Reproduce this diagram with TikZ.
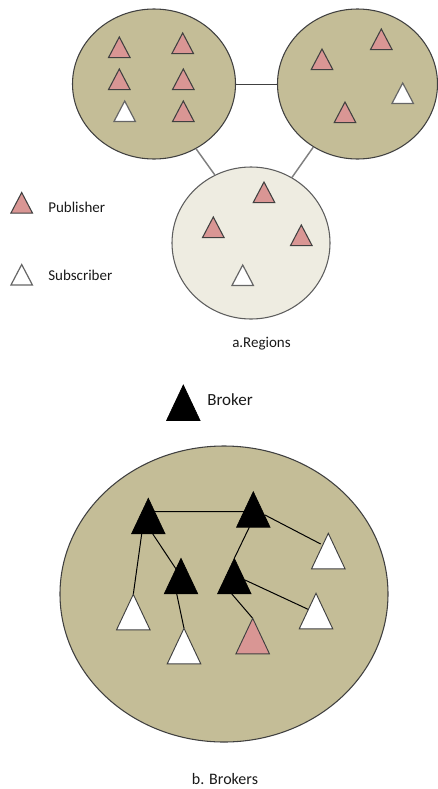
\documentclass[tikz,border=0pt]{standalone}
\usepackage{fontspec}
\setmainfont{Carlito}
\usetikzlibrary{shapes.geometric,calc}
\definecolor{regtan}{HTML}{C4BD97}
\definecolor{reglight}{HTML}{EEECE1}
\definecolor{pubpink}{HTML}{D99694}
\definecolor{edgedark}{HTML}{404040}
\begin{document}
\begin{tikzpicture}[x=0.75pt,y=-0.75pt,
  region/.style={ellipse,draw=edgedark,fill=regtan,line width=0.8pt,inner sep=0pt},
  lregion/.style={ellipse,draw=edgedark!85,fill=reglight,line width=0.8pt,inner sep=0pt},
  rline/.style={draw=black!75,line width=0.65pt},
  gline/.style={draw=black!50,line width=1.1pt},
  bline/.style={draw=black,line width=0.75pt},
  smalltri/.style={inner sep=0pt,minimum width=15.75pt,minimum height=15pt,anchor=north},
  bigtri/.style={inner sep=0pt,minimum width=24.75pt,minimum height=26.25pt,anchor=north},
  pinkfill/.style={fill=pubpink,draw=black!75,line width=0.8pt},
  whitefill/.style={fill=white,draw=black!60,line width=0.9pt},
  bwhitefill/.style={fill=white,draw=black!75,line width=0.7pt},
  blackfill/.style={fill=black,draw=black,line width=0.5pt},
  lbl/.style={inner sep=0pt,text=black!90}
]
\useasboundingbox (0,0) rectangle (438,789);

% regions
\node[region,minimum width=122.25pt,minimum height=112.5pt] (L) at (154,84) {};
\node[region,minimum width=120pt,minimum height=112.5pt] (R) at (357.5,84) {};
\node[lregion,minimum width=118.5pt,minimum height=114pt] (B) at (251,243) {};
\draw[rline] (L) -- (R);
\draw[gline] (L.-57) -- (B.118);
\draw[gline] (R.235) -- (B.58);

% big region
\node[region,minimum width=246pt,minimum height=222pt] (BB) at (224,594) {};

% small triangles (positions by apex)
\node[smalltri] (TL1) at (119.3,37) {};
\node[smalltri] (TL2) at (182.7,33) {};
\node[smalltri] (TL3) at (119.3,69) {};
\node[smalltri] (TL4) at (183.3,69) {};
\node[smalltri] (TL5) at (124.7,101) {};
\node[smalltri] (TL6) at (183.3,101) {};
\node[smalltri] (R1) at (322,49) {};
\node[smalltri] (R2) at (381.3,29) {};
\node[smalltri] (R3) at (402.7,83) {};
\node[smalltri] (R4) at (345,102) {};
\node[smalltri] (B1) at (264,182) {};
\node[smalltri] (B2) at (213.3,217) {};
\node[smalltri] (B3) at (301.3,225) {};
\node[smalltri] (B4) at (242.7,265) {};
\node[smalltri] (LP) at (21.7,192.5) {};
\node[smalltri] (LS) at (21.7,264.5) {};

% broker panel triangles
\node[bigtri] (LB) at (183.3,385) {};
\node[bigtri] (K1) at (148.3,498.3) {};
\node[bigtri] (K2) at (253.3,491.7) {};
\node[bigtri] (K3) at (181,558.3) {};
\node[bigtri] (K4) at (234.3,558.3) {};
\node[bigtri] (W1) at (328.3,533.3) {};
\node[bigtri] (W2) at (133.3,594.3) {};
\node[bigtri] (W3) at (316,593.3) {};
\node[bigtri] (W4) at (184,628.3) {};
\node[bigtri] (P1) at (252.7,618.3) {};

% broker connectors
\draw[bline] ($(K1.north)+(0,13.4)$) -- ($(K2.north)+(0,20)$);
\draw[bline] ($(K1.south)+(-6.6,0)$) -- (W2.north);
\draw[bline] ($(K1.south)+(4.4,0)$) -- ($(K3.north)+(-4.3,11.7)$);
\draw[bline] ($(K3.south)+(-4.3,0)$) -- (W4.north);
\draw[bline] ($(K2.south)+(-4,0)$) -- (K4.north);
\draw[bline] ($(K2.north)+(11.7,23.3)$) -- ($(W1.north)+(-7.6,10.7)$);
\draw[bline] ($(K4.north)+(10.7,21.7)$) -- ($(W3.north)+(-4.3,17.7)$);
\draw[bline] ($(K4.south)+(-2.6,0)$) -- (P1.north);

% draw triangles
\foreach \n in {TL1,TL2,TL3,TL4,TL6,R1,R2,R4,B1,B2,B3,LP}
  \draw[pinkfill] (\n.north) -- (\n.south east) -- (\n.south west) -- cycle;
\foreach \n in {TL5,R3,B4,LS}
  \draw[whitefill] (\n.north) -- (\n.south east) -- (\n.south west) -- cycle;
\foreach \n in {LB,K1,K2,K3,K4}
  \draw[blackfill] (\n.north) -- (\n.south east) -- (\n.south west) -- cycle;
\foreach \n in {W1,W2,W3,W4}
  \draw[bwhitefill] (\n.north) -- (\n.south east) -- (\n.south west) -- cycle;
\draw[pinkfill,line width=0.7pt] (P1.north) -- (P1.south east) -- (P1.south west) -- cycle;

% labels
\node[lbl,anchor=base west,font=\fontsize{11.25pt}{13pt}\selectfont] (tpub) at (48,212) {Publisher};
\node[lbl,anchor=base west,font=\fontsize{11.25pt}{13pt}\selectfont] (tsub) at (48,280.7) {Subscriber};
\node[lbl,anchor=base,font=\fontsize{11.25pt}{13pt}\selectfont] (treg) at (261.5,347) {a.Regions};
\node[lbl,anchor=base west,font=\fontsize{12.75pt}{15pt}\selectfont] (tbro) at (207,405.7) {Broker};
\node[lbl,anchor=base,font=\fontsize{12pt}{14pt}\selectfont] (tbrs) at (225,784.3) {b. Brokers};
\end{tikzpicture}
\end{document}
